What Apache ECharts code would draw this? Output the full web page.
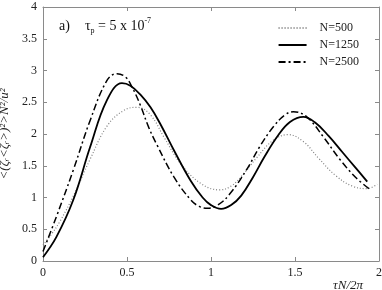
<!DOCTYPE html>
<html>
<head>
<meta charset="utf-8">
<script src="https://cdn.jsdelivr.net/npm/echarts@6/dist/echarts.min.js"></script>
<style>
html,body{margin:0;padding:0;background:#fff;}
#chart{width:382px;height:290px;}
</style>
</head>
<body>
<div id="chart"></div>
<script>
var seriesNames = ['N=500', 'N=1250', 'N=2500'];
var xTicks = [0, 0.5, 1, 1.5, 2];
var yTicks = [0, 0.5, 1, 1.5, 2, 2.5, 3, 3.5, 4];

var x500 = [0, 0.05, 0.10, 0.18, 0.28, 0.38, 0.48, 0.56, 0.64, 0.72, 0.82, 0.94, 1.05, 1.12, 1.19, 1.27, 1.37, 1.46, 1.55, 1.64, 1.74, 1.84, 1.93, 1.99];
var y500 = [0.25, 0.42, 0.62, 1.02, 1.60, 2.12, 2.37, 2.42, 2.30, 1.95, 1.53, 1.22, 1.12, 1.18, 1.36, 1.62, 1.90, 1.99, 1.88, 1.62, 1.35, 1.18, 1.14, 1.21];

var x1250 = [0, 0.08, 0.18, 0.28, 0.38, 0.47, 0.52, 0.58, 0.64, 0.70, 0.78, 0.88, 0.95, 1.00, 1.06, 1.12, 1.18, 1.25, 1.32, 1.40, 1.47, 1.55, 1.62, 1.70, 1.78, 1.86, 1.93];
var y1250 = [0.06, 0.38, 0.96, 1.79, 2.53, 2.80, 2.76, 2.62, 2.42, 2.15, 1.74, 1.26, 1.00, 0.88, 0.82, 0.88, 1.03, 1.32, 1.65, 1.98, 2.19, 2.27, 2.18, 1.97, 1.72, 1.47, 1.25];

var x2500 = [0, 0.08, 0.18, 0.28, 0.38, 0.44, 0.49, 0.53, 0.58, 0.63, 0.68, 0.78, 0.88, 0.93, 0.98, 1.04, 1.11, 1.21, 1.29, 1.37, 1.44, 1.49, 1.57, 1.67, 1.77, 1.86, 1.94];
var y2500 = [0.15, 0.70, 1.43, 2.21, 2.84, 2.95, 2.90, 2.74, 2.45, 2.10, 1.82, 1.32, 0.96, 0.86, 0.83, 0.88, 1.05, 1.43, 1.80, 2.11, 2.30, 2.35, 2.27, 1.95, 1.59, 1.32, 1.14];

function pairs(xs, ys) { return xs.map(function (v, i) { return [v, ys[i]]; }); }

var serif = 'Liberation Serif';
var axisCol = '#8a8a8a';
var chart = echarts.init(document.getElementById('chart'));

function xAx(pos, showLabel) {
  return {
    type: 'value', position: pos, min: xTicks[0], max: xTicks[xTicks.length - 1], interval: 0.5,
    axisLine: { show: true, onZero: false, lineStyle: { color: axisCol, width: 1 } },
    axisTick: { show: true, inside: true, length: 4, lineStyle: { color: axisCol } },
    axisLabel: { show: showLabel, fontFamily: serif, fontSize: 12, color: '#222', margin: 6 },
    splitLine: { show: false }
  };
}
function yAx(pos, showLabel) {
  return {
    type: 'value', position: pos, min: yTicks[0], max: yTicks[yTicks.length - 1], interval: 0.5,
    axisLine: { show: true, onZero: false, lineStyle: { color: axisCol, width: 1 } },
    axisTick: { show: true, inside: true, length: 4, lineStyle: { color: axisCol } },
    axisLabel: { show: showLabel, fontFamily: serif, fontSize: 12, color: '#222', margin: 6 },
    splitLine: { show: false }
  };
}

var xa0 = xAx('bottom', true);
xa0.name = 'τN/2π';
xa0.nameLocation = 'end';
xa0.nameGap = 0;
xa0.nameTextStyle = { fontFamily: serif, fontStyle: 'italic', fontSize: 13, color: '#222', align: 'right', verticalAlign: 'top', padding: [18, 16, 0, 0] };

var ya0 = yAx('left', true);
ya0.name = '<(ζᵣ<ζᵣ>)²>N²/u²';
ya0.nameLocation = 'middle';
ya0.nameGap = 28;
ya0.nameRotate = 90;
ya0.nameTextStyle = { fontFamily: serif, fontStyle: 'italic', fontSize: 13, color: '#222' };

chart.setOption({
  animation: false,
  backgroundColor: '#fff',
  grid: { left: 43, right: 3, top: 7, bottom: 29, containLabel: false, outerBoundsMode: 'none' },
  title: {
    text: '{a|a)}   {t|τ}{s|p}{t| = 5 x 10}{e|-7}',
    left: 54, top: 12,
    textStyle: {
      fontWeight: 'normal',
      rich: {
        a: { fontFamily: serif, fontSize: 14, color: '#111', fontWeight: 'normal' },
        t: { fontFamily: serif, fontSize: 14, color: '#111', fontWeight: 'normal' },
        s: { fontFamily: serif, fontSize: 8, color: '#111', fontWeight: 'normal', verticalAlign: 'bottom', padding: [6, 0, 0, 0] },
        e: { fontFamily: serif, fontSize: 8, color: '#111', fontWeight: 'normal', verticalAlign: 'top', padding: [0, 0, 6, 0] }
      }
    }
  },
  legend: {
    orient: 'vertical', right: 18, top: 17, itemWidth: 28, itemHeight: 10, itemGap: 5,
    itemStyle: { opacity: 0 },
    textStyle: { fontFamily: serif, fontSize: 12, color: '#222', padding: [0, 0, 0, 8] },
    data: seriesNames
  },
  xAxis: [xa0, xAx('top', false)],
  yAxis: [ya0, yAx('right', false)],
  series: [
    { name: seriesNames[0], type: 'line', smooth: 0.4, symbol: 'none', xAxisIndex: 0, yAxisIndex: 0,
      data: pairs(x500, y500), lineStyle: { color: '#808080', width: 1.2, type: [1, 2] }, itemStyle: { color: '#808080' } },
    { name: seriesNames[1], type: 'line', smooth: 0.4, symbol: 'none', xAxisIndex: 0, yAxisIndex: 0,
      data: pairs(x1250, y1250), lineStyle: { color: '#000', width: 1.8, type: 'solid' }, itemStyle: { color: '#000' } },
    { name: seriesNames[2], type: 'line', smooth: 0.4, symbol: 'none', xAxisIndex: 0, yAxisIndex: 0,
      data: pairs(x2500, y2500), lineStyle: { color: '#000', width: 1.5, type: [7, 3, 2, 3] }, itemStyle: { color: '#000' } }
  ]
});
</script>
</body>
</html>
